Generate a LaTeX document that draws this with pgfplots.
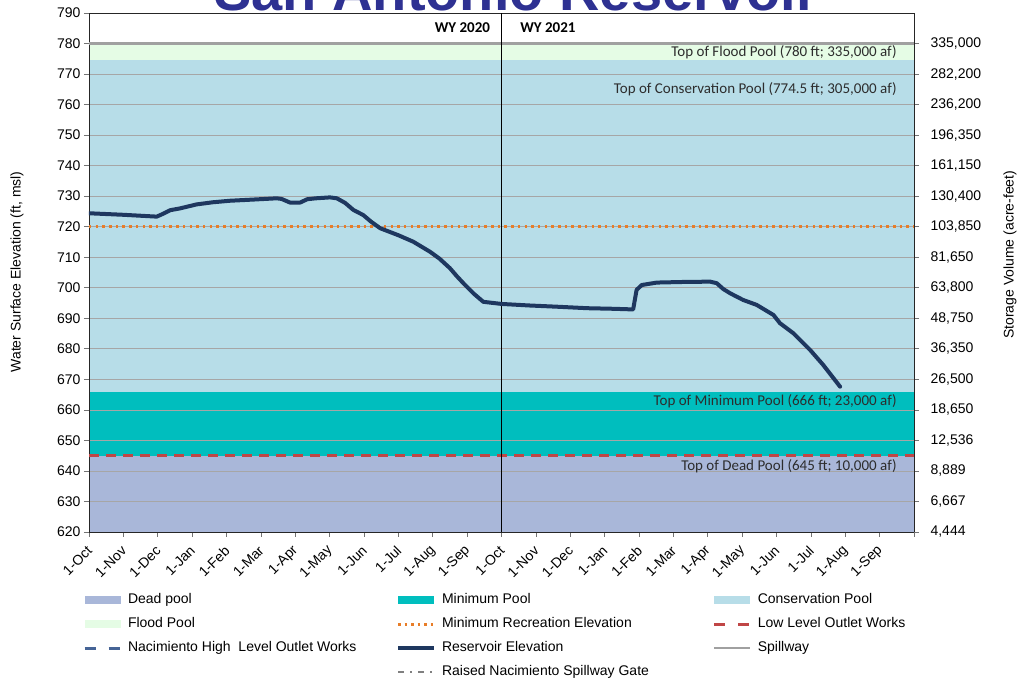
\documentclass[border=0pt]{standalone}
\usepackage{fontspec}
\setmainfont{Liberation Sans}
\newfontfamily\calfont{Carlito}
\usepackage{pgfplots}
\pgfplotsset{compat=1.18}
\definecolor{deadc}{RGB}{169,183,217}
\definecolor{minc}{RGB}{0,190,190}
\definecolor{consc}{RGB}{183,221,232}
\definecolor{floodc}{RGB}{229,252,229}
\definecolor{recc}{RGB}{232,125,40}
\definecolor{lowc}{RGB}{192,70,70}
\definecolor{nachc}{RGB}{70,100,150}
\definecolor{resc}{RGB}{30,55,95}
\definecolor{spillc}{RGB}{160,160,160}
\definecolor{titlec}{RGB}{46,49,146}
\definecolor{annc}{RGB}{45,45,45}
\pgfplotsset{
  areaimg/.style={legend image code/.code={\fill[##1,draw=none] (0pt,-4pt) rectangle (36pt,4pt);}},
  lineimg/.style={legend image code/.code={\draw[##1] (0pt,0pt) -- (36pt,0pt);}},
}
\newcommand{\la}[1]{\makebox[268pt][l]{#1}}
\newcommand{\lb}[1]{\makebox[271pt][l]{#1}}
\begin{document}
\begin{tikzpicture}
\begin{axis}[
  set layers,
  scale only axis, width=825pt, height=519pt,
  xmin=0, xmax=24, ymin=620, ymax=790,
  xtick={0,1,...,24},
  xticklabels={1-Oct,1-Nov,1-Dec,1-Jan,1-Feb,1-Mar,1-Apr,1-May,1-Jun,1-Jul,1-Aug,1-Sep,1-Oct,1-Nov,1-Dec,1-Jan,1-Feb,1-Mar,1-Apr,1-May,1-Jun,1-Jul,1-Aug,1-Sep,{}},
  ytick={620,630,...,790},
  ymajorgrids, grid style={black!35, line width=0.7pt},
  tick align=outside, major tick length=5pt,
  xtick pos=lower, ytick pos=left,
  tick style={black!55, line width=0.7pt},
  axis line style={black!85, line width=0.9pt},
  /pgf/number format/assume math mode=true,
  yticklabel style={font=\fontsize{14}{16}\selectfont},
  xticklabel style={xshift=3pt, yshift=-9pt, rotate=45, anchor=east, font=\fontsize{14}{16}\selectfont},
  ylabel={Water Surface Elevation (ft, msl)},
  ylabel style={at={(axis description cs:-0.0873,0.501)}, anchor=center, font=\fontsize{14}{16}\selectfont},
  legend columns=3,
  legend cell align=left,
  legend style={at={(axis description cs:-0.00727,-0.1127)}, anchor=north west, draw=none, fill=none, inner sep=0pt,
    row sep=4.4pt, font=\fontsize{14}{16}\selectfont,
    nodes={inner xsep=0pt, inner ysep=3pt, text height=10pt, text depth=3.5pt},
    /tikz/every odd column/.append style={column sep=6pt}},
]
% pools
\addplot[forget plot, fill=deadc, draw=none, on layer=axis background] coordinates {(0,620) (24,620) (24,645) (0,645)} -- cycle;
\addplot[forget plot, fill=minc, draw=none, on layer=axis background] coordinates {(0,645) (24,645) (24,666) (0,666)} -- cycle;
\addplot[forget plot, fill=consc, draw=none, on layer=axis background] coordinates {(0,666) (24,666) (24,774.5) (0,774.5)} -- cycle;
\addplot[forget plot, fill=floodc, draw=none, on layer=axis background] coordinates {(0,774.5) (24,774.5) (24,780) (0,780)} -- cycle;
% lines
\addplot[forget plot, recc, line width=2.5pt, dash pattern=on 2.5pt off 4.2pt] coordinates {(0,720) (24,720)};
\addplot[forget plot, lowc, line width=2.8pt, dash pattern=on 10pt off 7pt] coordinates {(0,645) (24,645)};
\addplot[forget plot, spillc, line width=2.5pt] coordinates {(0,780) (24,780)};
\addplot[forget plot, black, line width=1pt] coordinates {(12,620) (12,790)};
\addplot[forget plot, resc, line width=4pt, line join=round, line cap=round] coordinates {
(0,724.4) (1,723.9) (1.97,723.3) (2.15,724.2) (2.36,725.4) (2.65,726.0) (3.13,727.3) (3.6,728.0) (4.10,728.5) (4.8,728.9) (5.46,729.3) (5.6,729.1) (5.85,727.9) (6.14,727.9) (6.35,729.0) (6.6,729.3) (7.01,729.6) (7.21,729.3) (7.45,727.8) (7.69,725.5) (7.98,723.8) (8.2,721.7) (8.47,719.5) (9.0,717.2) (9.43,715.1) (9.92,711.8) (10.2,709.5) (10.5,706.4) (10.7,703.8) (10.89,701.5) (11.2,698) (11.47,695.4) (12.0,694.7) (12.8,694.2) (13.6,693.8) (14.5,693.3) (15.3,693.1) (15.83,692.9) (15.93,699.3) (16.08,700.9) (16.52,701.7) (17.3,701.9) (18.07,702.0) (18.26,701.5) (18.45,699.6) (18.65,698.2) (19.03,696.0) (19.42,694.4) (19.91,691.1) (20.10,688.4) (20.49,685.1) (20.98,679.6) (21.36,674.7) (21.85,667.6)};
% annotations
\node[anchor=east, font=\calfont\fontsize{15}{17}\selectfont, text=annc, inner sep=0pt] at (axis cs:23.5,777.2) {Top of Flood Pool (780 ft; 335,000 af)};
\node[anchor=east, font=\calfont\fontsize{15}{17}\selectfont, text=annc, inner sep=0pt] at (axis cs:23.5,765.1) {Top of Conservation Pool (774.5 ft; 305,000 af)};
\node[anchor=east, font=\calfont\fontsize{15}{17}\selectfont, text=annc, inner sep=0pt] at (axis cs:23.5,662.9) {Top of Minimum Pool (666 ft; 23,000 af)};
\node[anchor=east, font=\calfont\fontsize{15}{17}\selectfont, text=annc, inner sep=0pt] at (axis cs:23.5,641.6) {Top of Dead Pool (645 ft; 10,000 af)};
\node[anchor=east, font=\calfont\bfseries\fontsize{15}{17}\selectfont, inner sep=0pt] at (axis cs:11.67,785.1) {WY 2020};
\node[anchor=west, font=\calfont\bfseries\fontsize{15}{17}\selectfont, inner sep=0pt] at (axis cs:12.54,785.1) {WY 2021};
% legend
\addlegendimage{areaimg, fill=deadc}\addlegendentry{\la{Dead pool}}
\addlegendimage{areaimg, fill=minc}\addlegendentry{\lb{Minimum Pool}}
\addlegendimage{areaimg, fill=consc}\addlegendentry{Conservation Pool}
\addlegendimage{areaimg, fill=floodc}\addlegendentry{\la{Flood Pool}}
\addlegendimage{lineimg, recc, line width=2.5pt, dash pattern=on 2.5pt off 4pt}\addlegendentry{\lb{Minimum Recreation Elevation}}
\addlegendimage{lineimg, lowc, line width=2.8pt, dash pattern=on 11pt off 13pt}\addlegendentry{Low Level Outlet Works}
\addlegendimage{lineimg, nachc, line width=2.8pt, dash pattern=on 11pt off 13pt}\addlegendentry{\la{Nacimiento High\ \ Level Outlet Works}}
\addlegendimage{lineimg, resc, line width=4pt}\addlegendentry{\lb{Reservoir Elevation}}
\addlegendimage{lineimg, spillc, line width=2.5pt}\addlegendentry{Spillway}
\addlegendimage{empty legend}\addlegendentry{\la{}}
\addlegendimage{lineimg, black!50, line width=1.3pt, dash pattern=on 6pt off 6pt on 2pt off 6pt}\addlegendentry{\lb{Raised Nacimiento Spillway Gate}}
\end{axis}
\begin{axis}[
  scale only axis, width=825pt, height=519pt,
  xmin=0, xmax=24, ymin=620, ymax=790,
  axis x line=none, axis y line*=right,
  ytick={620,630,...,780},
  yticklabels={{4,444},{6,667},{8,889},{12,536},{18,650},{26,500},{36,350},{48,750},{63,800},{81,650},{103,850},{130,400},{161,150},{196,350},{236,200},{282,200},{335,000}},
  tick align=outside, major tick length=5pt,
  tick style={black!55, line width=0.7pt},
  axis line style={black!85, line width=0.9pt},
  yticklabel style={font=\fontsize{14}{16}\selectfont, xshift=8pt},
  ylabel={Storage Volume (acre-feet)},
  ylabel style={at={(axis description cs:1.1164,0.534)}, anchor=center, font=\fontsize{14}{16}\selectfont},
]
\addplot[draw=none] coordinates {(0,620) (24,790)};
\end{axis}
\node[anchor=base, font=\bfseries\fontsize{56}{60}\selectfont, text=titlec] at (427pt,521pt) {San Antonio Reservoir};
\pgfresetboundingbox
\useasboundingbox (-89pt,-150pt) rectangle (929pt,532pt);
\end{tikzpicture}
\end{document}
